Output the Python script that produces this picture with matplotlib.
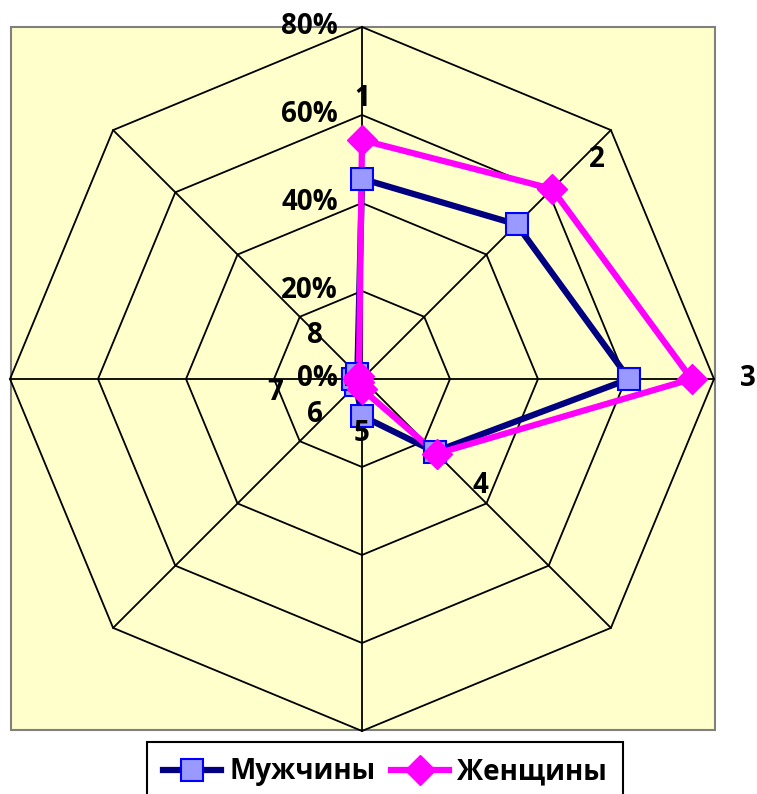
import numpy as np
import matplotlib
matplotlib.use("Agg")
import matplotlib.pyplot as plt
from matplotlib.patches import Rectangle
from matplotlib.lines import Line2D

plt.rcParams['font.family'] = ['Open Sans', 'DejaVu Sans']

# ---- data ----
categories = ["1", "2", "3", "4", "5", "6", "7", "8"]
men = [45.5, 49.7, 60.7, 23.4, 8.4, 2.0, 2.0, 1.5]
women = [54.3, 61.1, 74.9, 24.0, 2.3, 1.0, 1.0, 1.0]
levels = [0, 20, 40, 60, 80]
level_labels = ["0%", "20%", "40%", "60%", "80%"]
series_names = ["Мужчины", "Женщины"]

# label placement (angle in degrees clockwise from top, radius in %)
label_pos = [(0, 63.8), (47, 73), (90, 87.7), (131.8, 36.2),
             (180, 12.3), (232.5, 13.4), (261, 20.0), (313, 14.6)]

W, H = 757, 794
fig = plt.figure(figsize=(W / 100, H / 100), dpi=100)
fig.patch.set_facecolor('white')

# plot area background
bg = Rectangle((11 / W, (H - 730) / H), 704 / W, 703 / H,
               transform=fig.transFigure, facecolor='#FFFFCC',
               edgecolor='#808080', lw=1.5, zorder=-10)
fig.patches.append(bg)

ax = fig.add_axes([10 / W, 63 / H, 704 / W, 704 / H], projection='polar')
ax.set_zorder(1)
ax.set_theta_offset(np.pi / 2)
ax.set_theta_direction(-1)
ax.set_ylim(0, 80)
ax.patch.set_visible(False)
ax.spines['polar'].set_visible(False)
ax.grid(False)
ax.set_xticks([])
ax.set_yticks([])

n = len(categories)
theta = np.deg2rad(np.arange(n) * 360 / n)
theta_c = np.append(theta, theta[0])

# grid octagons
for lv in levels[1:]:
    ax.plot(theta_c, [lv] * (n + 1), color='black', lw=1.3, zorder=1, clip_on=False)
for t in theta:
    ax.plot([t, t], [0, levels[-1]], color='black', lw=1.3, zorder=1, clip_on=False)

# series lines
men_c = men + men[:1]
women_c = women + women[:1]
ax.plot(theta_c, men_c, color='#000080', lw=4.5, zorder=3, clip_on=False)
ax.plot(theta_c, women_c, color='#FF00FF', lw=4.5, zorder=4, clip_on=False)
# markers
ax.plot(theta, men, ls='none', marker='s', markersize=16, markerfacecolor='#9999FF',
        markeredgecolor='#0000FF', markeredgewidth=1.5, zorder=5, clip_on=False)
ax.plot(theta, women, ls='none', marker='D', markersize=15, markerfacecolor='#FF00FF',
        markeredgecolor='#FF00FF', markeredgewidth=1, zorder=6, clip_on=False)

# radial tick labels
for lv, lab in zip(levels, level_labels):
    ax.annotate(lab, xy=(0, lv), xytext=(-24, 0), textcoords='offset pixels',
                ha='right', va='center', fontsize=20, fontweight='bold',
                annotation_clip=False, zorder=7)

# category labels
for lab, (ang, r) in zip(categories, label_pos):
    ax.text(np.deg2rad(ang), r, lab, ha='center', va='center', fontsize=20,
            fontweight='bold', clip_on=False, zorder=7)

# legend
h_men = Line2D([], [], color='#000080', lw=4.5, marker='s', markersize=16,
               markerfacecolor='#9999FF', markeredgecolor='#0000FF', markeredgewidth=1.5)
h_women = Line2D([], [], color='#FF00FF', lw=4.5, marker='D', markersize=15,
                 markerfacecolor='#FF00FF', markeredgecolor='#FF00FF')
leg = fig.legend([h_men, h_women], series_names, loc='upper center',
                 bbox_to_anchor=(385 / W, 1 - 742 / H), ncol=2, frameon=True,
                 fancybox=False, edgecolor='black', framealpha=1,
                 prop={'size': 20, 'weight': 'bold'}, handlelength=2.1,
                 handletextpad=0.3, columnspacing=0.55, borderpad=0.55,
                 borderaxespad=0)
leg.get_frame().set_linewidth(1.5)

fig.savefig('out.png', dpi=100)
